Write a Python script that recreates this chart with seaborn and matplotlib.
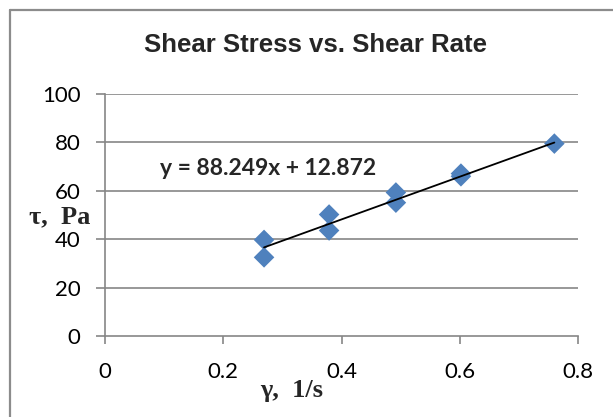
import matplotlib
matplotlib.use("Agg")
import matplotlib.pyplot as plt
import seaborn as sns
import numpy as np
import pandas as pd
from matplotlib.lines import Line2D

# Data
shear_rate = [0.269, 0.269, 0.379, 0.379, 0.492, 0.492, 0.602, 0.602, 0.760]
shear_stress = [39.7, 32.5, 50.2, 43.6, 59.3, 55.1, 67.1, 66.0, 79.5]
slope = 88.249
intercept = 12.872
x_ticks = [0, 0.2, 0.4, 0.6, 0.8]
y_ticks = [0, 20, 40, 60, 80, 100]

df = pd.DataFrame({"rate": shear_rate, "stress": shear_stress})

sns.set_theme(style="white")
plt.rcParams['font.family'] = ['Lato', 'DejaVu Sans']

W, H = 613, 417
fig = plt.figure(figsize=(W / 100, H / 100), dpi=100)
L, R, T, B = 105, 578, 94, 336
ax = fig.add_axes([L / W, 1 - B / H, (R - L) / W, (B - T) / H])

grid_c = "#868686"
for yt in y_ticks[1:]:
    ax.axhline(yt, color=grid_c, lw=1.2, zorder=0)

sns.scatterplot(data=df, x="rate", y="stress", marker="D", s=110,
                color="#4F81BD", edgecolor="none", ax=ax, zorder=3, legend=False)

xs = np.array([min(shear_rate), max(shear_rate)])
ax.plot(xs, slope * xs + intercept, color="black", lw=1.3, zorder=4)

ax.set_xlim(0, 0.8)
ax.set_ylim(0, 100)
ax.set_xticks(x_ticks)
ax.set_yticks(y_ticks)
ax.set_xticklabels(["0", "0.2", "0.4", "0.6", "0.8"])
ax.set_yticklabels([str(v) for v in y_ticks])
ax.tick_params(axis="x", direction="out", length=6, width=1.2, color=grid_c,
               labelsize=16, pad=13, bottom=True)
ax.tick_params(axis="y", direction="out", length=6.5, width=1.2, color=grid_c,
               labelsize=16, pad=11, left=True)
for lab in ax.get_xticklabels() + ax.get_yticklabels():
    lab.set_color("black")

for s in ["top", "right"]:
    ax.spines[s].set_visible(False)
for s in ["left", "bottom"]:
    ax.spines[s].set_color(grid_c)
    ax.spines[s].set_linewidth(1.2)

ax.set_xlabel("")
ax.set_ylabel("")

fig.text(316 / W, 1 - 45 / H, "Shear Stress vs. Shear Rate", ha="center", va="center",
         fontsize=18.5, fontweight="bold", family=["Liberation Sans", "DejaVu Sans"])
fig.text(60 / W, 1 - 217 / H, "τ,  Pa", ha="center", va="center",
         fontsize=19, fontweight="bold", family=["Liberation Serif", "DejaVu Serif"])
fig.text(292 / W, 1 - 390 / H, "γ,  1/s", ha="center", va="center",
         fontsize=19, fontweight="bold", family=["Liberation Serif", "DejaVu Serif"])
ax.text(0.093, 66.4, f"y = {slope}x + {intercept}", ha="left", va="baseline",
        fontsize=16.5, fontweight="bold", zorder=5)

# chart border (only top and left edges are visible in the reference)
fig.add_artist(Line2D([10 / W, 10 / W], [0, 1 - 10 / H], transform=fig.transFigure,
                      color="#8c8c8c", lw=1.6))
fig.add_artist(Line2D([10 / W, 1], [1 - 10 / H, 1 - 10 / H], transform=fig.transFigure,
                      color="#8c8c8c", lw=1.6))

fig.savefig("out.png", dpi=100)
